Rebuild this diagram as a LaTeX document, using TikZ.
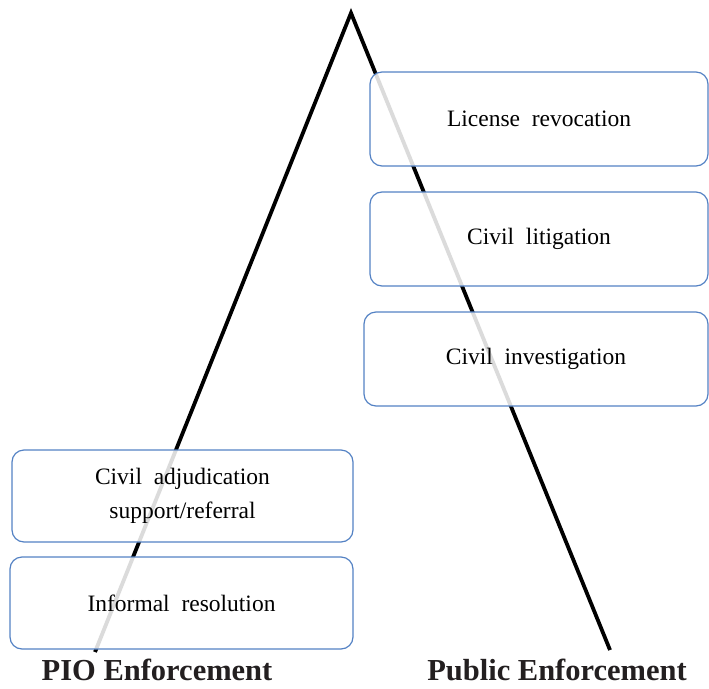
\documentclass[tikz,border=0pt]{standalone}
\usepackage{fontspec}
\setmainfont{Liberation Serif}
\definecolor{boxblue}{RGB}{84,130,196}
\definecolor{labelgray}{RGB}{35,31,32}
\begin{document}
\begin{tikzpicture}[x=1pt,y=-1pt]
\useasboundingbox (0,0) rectangle (709,688);
\tikzset{
  box/.style={draw=boxblue, line width=1.2pt, rounded corners=12pt, fill=white,
    fill opacity=0.86, text opacity=1, font=\fontsize{23.5}{34}\selectfont,
    align=center, inner sep=0pt},
  leglabel/.style={font=\fontsize{30.5}{33}\selectfont\bfseries, text=labelgray, inner sep=0pt, anchor=base}
}
\coordinate (apex) at (351,13);
\coordinate (lb) at (95,652);
\coordinate (rb) at (610,650);
\draw[line width=3.8pt, line join=miter] (lb) -- (apex) -- (rb);
\node[box, minimum width=338pt, minimum height=94pt] (lic) at (539,119) {License\ \ revocation};
\node[box, minimum width=338pt, minimum height=94pt] (lit) at (539,239) {Civil\ \ litigation};
\node[box, minimum width=344pt, minimum height=94pt] (inv) at (536,359) {Civil\ \ investigation};
\node[box, minimum width=341pt, minimum height=92pt] (adj) at (182.5,496) {Civil\ \ adjudication\\support/referral};
\node[box, minimum width=343pt, minimum height=92pt] (inf) at (181.5,603) {Informal\ \ resolution};
\node[leglabel] (pio) at (157,680) {PIO Enforcement};
\node[leglabel] (pub) at (557,680) {Public Enforcement};
\end{tikzpicture}
\end{document}
